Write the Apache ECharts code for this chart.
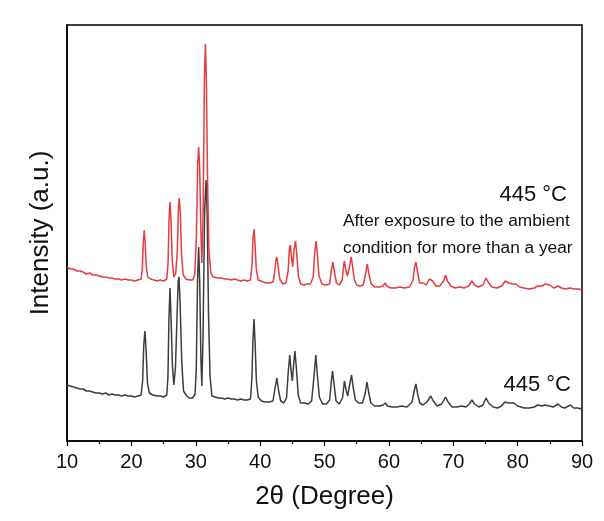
<!DOCTYPE html>
<html>
<head>
<meta charset="utf-8">
<script src="https://cdn.jsdelivr.net/npm/echarts@6/dist/echarts.min.js"></script>
<style>
html,body{margin:0;padding:0;background:#fff;}
#chart{width:604px;height:521px;}
</style>
</head>
<body>
<div id="chart"></div>
<script>
// X-axis tick labels (2θ, degree)
var xTicks = [10, 20, 30, 40, 50, 60, 70, 80, 90];

// Upper (red) pattern: after exposure to ambient condition for more than a year, 445 °C
var redPattern = [
[10,174],[10.5,172],[11,172],[11.5,170],[12,170],[12.5,169],[13,167],[13.5,168],[14,166],[14.5,166],[15,165],[15.5,164],[16,164],[16.5,163],[17,163],[17.5,162],[18,162],[18.5,161],[19,162],[19.5,161],[20,161],[20.5,160],[21,161],[21.5,162],
[21.7,172],[21.85,198],[22.0,211],[22.15,198],[22.3,175],[22.55,164],[23,162],[23.5,161],[24,160],[24.5,161],[25,160],[25.5,162],
[25.7,178],[25.85,222],[26.0,239],[26.15,222],[26.35,180],[26.6,164],[26.9,168],[27.15,192],[27.3,232],[27.45,243],[27.6,228],[27.8,185],[28.05,166],[28.5,162],[29,161],[29.5,161],[29.85,166],
[30.1,205],[30.3,278],[30.45,294],[30.6,275],[30.8,210],[30.95,178],[31.15,230],[31.35,365],[31.5,397],[31.65,360],[31.85,255],[32.05,190],[32.35,168],[32.7,164],
[33,164],[33.5,163],[34,163],[34.5,162],[35,162],[35.5,161],[36,162],[36.5,161],[37,160],[37.5,161],[38,160],[38.5,161],
[38.75,177],[38.9,203],[39.05,212],[39.2,198],[39.4,172],[39.7,161],[40,159],[40.5,159],[41,158],[41.5,158],[42,159],
[42.25,168],[42.45,181],[42.6,184],[42.8,174],[43.05,162],[43.5,157],[44,158],[44.35,170],[44.55,192],[44.7,196],[44.87,184],[45.05,174],[45.28,192],[45.5,200],[45.7,186],[45.95,165],
[46.3,157],[46.8,156],[47.3,157],[47.8,157],[48.25,164],[48.5,190],[48.7,200],[48.9,186],[49.15,165],[49.6,157],[50.2,156],[50.8,157],
[51.05,170],[51.3,179],[51.55,169],[51.85,158],[52.3,156],[52.75,161],[52.98,176],[53.1,180],[53.28,172],[53.55,165],[53.88,174],[54.15,184],[54.35,175],[54.65,161],
[55,156],[55.5,155],[56,156],[56.35,166],[56.65,177],[56.9,167],[57.25,157],[57.8,154],[58.5,154],[59.1,155],[59.4,158],[59.7,155],
[60.3,153],[61,153],[61.7,154],[62.4,153],[63.2,154],[63.75,161],[64.0,174],[64.2,179],[64.4,171],[64.75,158],[65.35,158],[65.8,156],[66.3,162],[66.5,164],[66.8,160],[67.3,155],[67.9,155],[68.5,160],[68.8,166],[69.1,160],[69.6,155],
[70.3,153],[71,154],[71.7,153],[72.4,155],[72.9,160],[73.3,156],[73.9,154],[74.6,156],[75.1,163],[75.5,158],[76,154],[76.8,153],[77.5,155],[78.1,160],[78.6,158],[79.2,157],[79.7,157],
[80.3,154],[81,153],[81.8,152],[82.6,153],[83.1,155],[83.4,157],[83.8,155],[84.3,157],[84.6,159],[85,156],[85.6,153],[86.3,155],[86.8,153],[87.5,152],[88.1,153],[88.4,154],[88.9,152],[89.5,152],[90,151]
];

// Lower (dark grey) pattern: 445 °C
var greyPattern = [
[10,56],[10.5,55],[11,54],[11.5,53],[12,52],[12.5,52],[13,50],[13.5,50],[14,49],[14.5,48],[15,48],[15.5,47],[16,48],[16.5,46],[17,47],[17.5,46],[18,46],[18.5,45],[19,46],[19.5,45],[20,45],[20.5,44],[21,45],[21.5,46],
[21.75,60],[21.92,95],[22.1,110],[22.28,92],[22.5,58],[22.8,48],[23.3,46],[24,45],[24.5,45],[25,44],[25.5,46],
[25.68,64],[25.83,120],[26.0,153],[26.17,122],[26.38,75],[26.6,56],[26.85,74],[27.08,122],[27.27,160],[27.4,164],[27.57,138],[27.82,80],[28.1,50],[28.6,45],[29,43],[29.5,43],[29.9,47],
[30.08,72],[30.28,160],[30.45,194],[30.62,158],[30.8,82],[30.95,55],[31.13,104],[31.38,230],[31.6,261],[31.78,226],[31.98,128],[32.22,65],[32.5,45],
[33,44],[33.5,43],[34,43],[34.5,42],[35,43],[35.5,42],[36,42],[36.5,41],[37,42],[37.5,41],[38,41],[38.5,42],
[38.72,62],[38.88,100],[39.05,122],[39.22,98],[39.42,60],[39.7,44],[40.2,40],[40.8,39],[41.4,39],[42,40],
[42.3,52],[42.6,63],[42.88,50],[43.2,40],[43.7,38],[44.1,43],[44.38,70],[44.6,86],[44.8,71],[45.0,60],[45.2,76],[45.4,90],[45.62,74],[45.92,46],
[46.3,38],[46.9,38],[47.5,37],[48.0,40],[48.33,62],[48.65,86],[48.92,64],[49.2,44],[49.7,37],[50.3,37],[50.8,41],
[51.03,58],[51.25,70],[51.48,57],[51.8,40],[52.3,37],[52.8,43],[53.1,60],[53.35,51],[53.6,45],[53.9,56],[54.2,66],[54.47,53],[54.8,41],
[55.3,38],[55.9,38],[56.3,47],[56.6,59],[56.88,48],[57.2,38],[57.8,35],[58.5,35],[59.1,36],[59.45,38],[59.8,35],
[60.5,34],[61.2,34],[62,35],[62.8,34],[63.6,39],[63.93,50],[64.2,57],[64.47,47],[64.8,38],[65.3,36],[65.9,39],[66.5,45],[66.9,40],[67.5,35],[68.2,37],[68.8,44],[69.2,39],[69.8,34],
[70.5,34],[71.3,35],[72,34],[72.5,37],[72.9,41],[73.3,37],[74,34],[74.6,36],[75.1,43],[75.5,38],[76.2,34],[76.9,33],[77.5,35],[78,39],[78.6,38],[79.4,38],
[80,35],[81,33],[81.8,33],[82.6,34],[83.1,36],[83.4,37],[83.8,35],[84.2,36],[84.5,38],[84.9,35],[85.5,34],[86.3,37],[86.8,34],[87.3,33],[88.2,36],[88.7,33],[89.3,33],[90,32]
];

var labelTop = '445 °C';
var noteLines = ['After exposure to the ambient', 'condition for more than a year'];
var labelBottom = '445 °C';

var FONT = '"Liberation Sans", Arial, sans-serif';
var chart = echarts.init(document.getElementById('chart'), null, {renderer: 'canvas'});
chart.setOption({
  animation: false,
  backgroundColor: '#ffffff',
  grid: {left: 67, right: 22, top: 25, bottom: 80, show: true, borderColor: '#000', borderWidth: 1.5, backgroundColor: 'transparent'},
  xAxis: {
    type: 'value', min: xTicks[0], max: xTicks[xTicks.length - 1], interval: 10,
    name: '2\u03b8 (Degree)', nameLocation: 'middle', nameGap: 43,
    nameTextStyle: {fontFamily: FONT, fontSize: 26, color: '#111'},
    axisLine: {show: true, lineStyle: {color: '#000', width: 1.5}},
    axisTick: {show: true, inside: false, length: 5, lineStyle: {color: '#000', width: 1.2}},
    minorTick: {show: true, splitNumber: 2, length: 3, lineStyle: {color: '#000', width: 1.2}},
    axisLabel: {fontFamily: FONT, fontSize: 20, color: '#111', margin: 11},
    splitLine: {show: false}
  },
  yAxis: {
    type: 'value', min: 0, max: 416,
    name: 'Intensity (a.u.)', nameLocation: 'middle', nameGap: 13,
    nameTextStyle: {fontFamily: FONT, fontSize: 26, color: '#111'},
    axisLine: {show: true, lineStyle: {color: '#000', width: 1.5}},
    axisTick: {show: false}, axisLabel: {show: false}, splitLine: {show: false}
  },
  series: [
    {type: 'line', data: redPattern, showSymbol: false, symbol: 'none', lineStyle: {color: '#e63b3f', width: 1.5}, z: 3},
    {type: 'line', data: greyPattern, showSymbol: false, symbol: 'none', lineStyle: {color: '#3d3d3d', width: 1.5}, z: 2}
  ],
  graphic: [
    {type: 'text', right: 37, top: 184, style: {text: labelTop, font: '22px ' + FONT, fill: '#111'}},
    {type: 'text', left: 343, top: 213, style: {text: noteLines[0], font: '17.3px ' + FONT, fill: '#111'}},
    {type: 'text', left: 343, top: 240, style: {text: noteLines[1], font: '17.3px ' + FONT, fill: '#111'}},
    {type: 'text', right: 33, top: 374, style: {text: labelBottom, font: '22px ' + FONT, fill: '#111'}}
  ]
});
</script>
</body>
</html>
